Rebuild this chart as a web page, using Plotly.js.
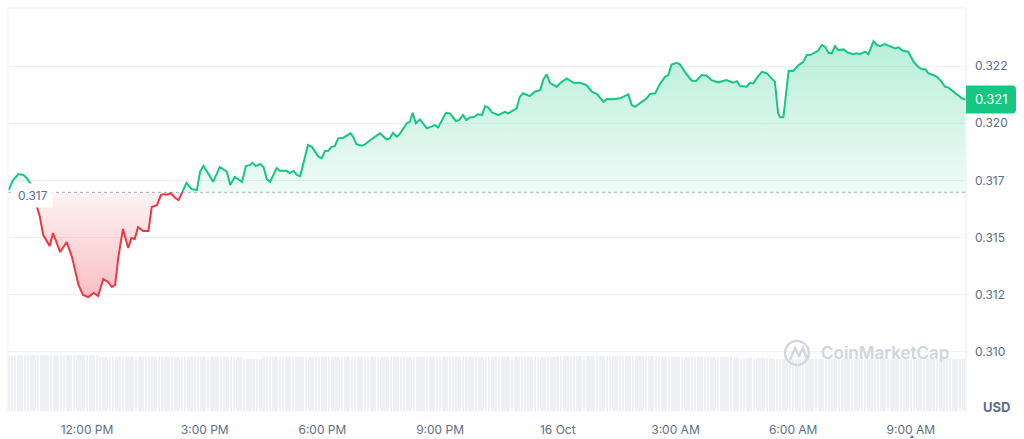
<!DOCTYPE html>
<html>
<head>
<meta charset="utf-8">
<script src="https://cdn.plot.ly/plotly-3.0.1.min.js"></script>
<style>
html,body{margin:0;padding:0;background:#ffffff;}
#chart{width:1024px;height:439px;}
</style>
</head>
<body>
<div id="chart"></div>
<script>
// ---------------- DATA ----------------
const startTime = Date.UTC(2024, 9, 15, 10, 0, 0); // 15 Oct, 10:00 AM
// minutes after start for each price sample
const priceMinutes = [
  0,7,15,23,28,33,43,48,53,63,
  68,79,89,97,107,114,122,130,137,145,
  152,158,163,168,175,183,188,193,198,206,
  214,219,227,233,237,242,248,255,260,266,
  272,280,288,293,298,305,313,323,334,339,
  346,357,363,369,373,378,385,390,395,400,
  410,415,425,430,436,441,446,458,464,469,
  474,479,484,489,494,499,504,512,523,527,
  532,540,545,555,568,578,583,588,594,599,
  609,614,618,623,629,640,652,657,669,675,
  684,689,695,700,706,711,718,724,729,734,
  739,749,759,764,777,782,787,797,805,813,
  818,823,828,838,846,854,864,874,884,892,
  900,910,915,925,935,948,953,958,968,976,
  981,989,996,1004,1009,1014,1022,1027,1035,1045,
  1052,1060,1068,1075,1085,1098,1108,1114,1119,1129,
  1134,1139,1144,1152,1160,1172,1177,1180,1185,1193,
  1200,1208,1215,1221,1226,1233,1238,1244,1249,1254,
  1259,1264,1269,1277,1284,1292,1297,1302,1310,1315,
  1323,1328,1333,1340,1348,1356,1361,1368,1376,1384,
  1391,1397,1402,1407,1414,1420,1427,1432,1437,1442,
  1450,1458,1463
];
const priceValues = [
  0.31708,0.31752,0.31778,0.31774,0.31760,0.31739,0.31635,0.31590,0.31511,0.31463,
  0.31520,0.31437,0.31481,0.31415,0.31293,0.31249,0.31240,0.31258,0.31245,0.31319,
  0.31306,0.31284,0.31293,0.31415,0.31538,0.31455,0.31498,0.31494,0.31546,0.31529,
  0.31529,0.31634,0.31642,0.31686,0.31690,0.31688,0.31694,0.31673,0.31664,0.31700,
  0.31739,0.31712,0.31708,0.31788,0.31813,0.31782,0.31744,0.31809,0.31788,0.31730,
  0.31765,0.31744,0.31813,0.31817,0.31827,0.31813,0.31822,0.31809,0.31756,0.31744,
  0.31804,0.31792,0.31792,0.31782,0.31792,0.31774,0.31769,0.31905,0.31897,0.31875,
  0.31854,0.31847,0.31879,0.31880,0.31897,0.31900,0.31934,0.31937,0.31956,0.31941,
  0.31909,0.31902,0.31908,0.31930,0.31956,0.31930,0.31934,0.31958,0.31941,0.31956,
  0.32000,0.32007,0.32046,0.32000,0.32017,0.31978,0.31992,0.31982,0.32046,0.32043,
  0.32010,0.32014,0.32036,0.32014,0.32026,0.32026,0.32039,0.32036,0.32075,0.32068,
  0.32048,0.32036,0.32050,0.32043,0.32065,0.32116,0.32131,0.32119,0.32138,0.32145,
  0.32192,0.32214,0.32177,0.32160,0.32181,0.32196,0.32177,0.32177,0.32167,0.32138,
  0.32128,0.32094,0.32106,0.32105,0.32109,0.32126,0.32080,0.32072,0.32094,0.32109,
  0.32128,0.32131,0.32171,0.32203,0.32211,0.32257,0.32264,0.32257,0.32221,0.32186,
  0.32186,0.32211,0.32208,0.32189,0.32179,0.32189,0.32177,0.32184,0.32163,0.32160,
  0.32177,0.32174,0.32196,0.32225,0.32218,0.32181,0.32043,0.32026,0.32026,0.32229,
  0.32229,0.32254,0.32267,0.32298,0.32298,0.32308,0.32317,0.32342,0.32334,0.32308,
  0.32306,0.32337,0.32320,0.32323,0.32308,0.32302,0.32306,0.32302,0.32313,0.32302,
  0.32359,0.32342,0.32337,0.32346,0.32337,0.32327,0.32332,0.32317,0.32313,0.32269,
  0.32247,0.32236,0.32236,0.32218,0.32211,0.32203,0.32181,0.32160,0.32157,0.32145,
  0.32128,0.32109,0.32104
];
const baselinePrice = 0.31698;   // period open (dotted reference line)
const baselineLabel = '0.317';
const lastPriceLabel = '0.321';

// 5-minute volume bars (24h rolling volume, millions USD)
const volumeStepMinutes = 5;
const volumeValues = [
  5.61,5.62,5.60,5.60,5.63,5.61,5.60,5.60,5.61,5.60,5.60,5.59,5.60,5.60,5.61,5.60,5.60,5.60,5.59,5.60,5.60,5.61,5.60,5.60,5.60,5.59,5.60,5.58,
  5.38,5.37,5.37,5.36,5.37,5.37,5.38,5.37,5.37,5.38,
  5.43,5.44,5.43,5.43,5.42,5.43,5.43,5.44,5.43,5.43,5.43,5.42,5.43,5.43,5.44,5.43,5.43,5.43,5.42,5.43,5.43,5.43,5.44,5.43,5.43,5.43,5.42,5.43,5.43,5.43,5.42,5.41,5.40,5.38,
  5.20,5.20,5.19,5.20,5.20,5.21,
  5.36,5.37,5.37,5.38,5.37,5.37,5.36,5.37,5.37,5.37,5.38,5.37,5.37,5.37,5.36,5.37,5.37,5.38,5.37,5.37,5.37,5.37,5.36,5.37,5.37,5.38,5.37,5.37,5.37,5.36,5.37,5.37,5.37,5.38,5.37,5.37,5.37,5.36,5.37,5.37,5.37,5.38,5.37,5.37,5.38,
  5.43,5.43,5.44,5.43,5.43,5.42,5.43,5.43,5.43,5.44,5.43,5.43,5.43,5.42,5.43,5.43,5.44,5.43,5.43,5.43,5.43,5.42,5.43,5.43,5.44,5.43,5.43,5.43,5.42,5.43,5.43,5.43,5.44,5.43,5.43,5.43,5.42,5.43,5.43,5.44,5.43,5.43,5.43,5.44,5.45,5.47,
  5.52,5.53,5.53,5.54,5.53,5.53,5.52,5.53,5.53,5.54,5.53,5.53,5.53,5.52,5.53,5.53,5.54,5.53,5.53,5.53,5.52,5.53,5.53,5.54,5.53,5.53,5.52,5.53,5.52,5.50,
  5.44,5.43,5.43,5.42,5.43,5.43,5.44,5.43,5.43,5.43,5.42,5.43,5.43,5.44,5.43,5.43,5.42,5.43,5.43,5.43,5.42,5.41,5.39,
  5.28,5.27,5.27,5.26,5.27,5.27,5.28,5.27,5.27,5.26,5.27,5.26,5.24,
  5.21,5.20,5.20,5.19,5.20,5.20,5.21,5.20,5.20,5.20,5.19,5.20,5.20,5.21,5.20,5.20,5.20,5.19,5.20,5.20,5.21,5.20,5.20,5.19,5.20,5.20,5.20,5.21,5.20,5.20,
  5.19,5.20,5.20,5.21,5.20,5.20,5.20,5.19,5.20,5.20,5.21,5.20,5.20,5.20,5.19,5.20,5.20,5.21,5.20,5.20,5.20,5.19,5.20,5.20,5.21,5.20,5.20,5.20
];

const xTickVals = ['2024-10-15 12:00','2024-10-15 15:00','2024-10-15 18:00','2024-10-15 21:00',
                   '2024-10-16 00:00','2024-10-16 03:00','2024-10-16 06:00','2024-10-16 09:00'];
const xTickText = ['12:00 PM','3:00 PM','6:00 PM','9:00 PM','16 Oct','3:00 AM','6:00 AM','9:00 AM'];
const yTickVals = [0.31, 0.3125, 0.315, 0.3175, 0.32, 0.3225];
const yTickText = ['0.310','0.312','0.315','0.317','0.320','0.322'];

// ---------------- BUILD ----------------
const toStr = ms => new Date(ms).toISOString().slice(0,19).replace('T',' ');
const pT = priceMinutes.map(m => startTime + m * 60000);

// split series at the baseline crossings
const X = [], Y = [];
for (let i = 0; i < pT.length; i++) {
  if (i > 0) {
    const a = priceValues[i-1], b = priceValues[i];
    if ((a - baselinePrice) * (b - baselinePrice) < 0) {
      const f = (baselinePrice - a) / (b - a);
      X.push(pT[i-1] + f * (pT[i] - pT[i-1]));
      Y.push(baselinePrice);
    }
  }
  X.push(pT[i]); Y.push(priceValues[i]);
}
const xs = X.map(toStr);
const baseArr = Y.map(() => baselinePrice);
const upFill = Y.map(v => Math.max(v, baselinePrice));
const downFill = Y.map(v => Math.min(v, baselinePrice));
const upLine = Y.map(v => v >= baselinePrice ? v : null);
const downLine = Y.map(v => v <= baselinePrice ? v : null);
const maxP = Math.max(...priceValues), minP = Math.min(...priceValues);
const lastPrice = priceValues[priceValues.length - 1];

const volX = volumeValues.map((v, i) => toStr(startTime + i * volumeStepMinutes * 60000));

const GREEN = '#16c784', RED = '#ea3943';
const TXT = '#616e85';

const traces = [
  {x: volX, y: volumeValues, type: 'bar', yaxis: 'y2', width: 4 * 60000,
   marker: {color: '#eef0f4', line: {width: 0}}, hoverinfo: 'skip'},
  {x: xs, y: baseArr, mode: 'lines', line: {width: 0, color: 'rgba(0,0,0,0)'}, hoverinfo: 'skip'},
  {x: xs, y: upFill, mode: 'lines', line: {width: 0, color: 'rgba(0,0,0,0)'}, fill: 'tonexty',
   fillcolor: 'rgba(22,199,132,0.15)',
   fillgradient: {type: 'vertical', start: baselinePrice, stop: maxP,
     colorscale: [[0, 'rgba(22,199,132,0.07)'], [1, 'rgba(22,199,132,0.30)']]}, hoverinfo: 'skip'},
  {x: xs, y: baseArr, mode: 'lines', line: {width: 0, color: 'rgba(0,0,0,0)'}, hoverinfo: 'skip'},
  {x: xs, y: downFill, mode: 'lines', line: {width: 0, color: 'rgba(0,0,0,0)'}, fill: 'tonexty',
   fillcolor: 'rgba(234,57,67,0.15)',
   fillgradient: {type: 'vertical', start: baselinePrice, stop: minP,
     colorscale: [[0, 'rgba(234,57,67,0.06)'], [1, 'rgba(234,57,67,0.32)']]}, hoverinfo: 'skip'},
  {x: xs, y: upLine, mode: 'lines', line: {width: 2, color: GREEN}, hoverinfo: 'skip'},
  {x: xs, y: downLine, mode: 'lines', line: {width: 2, color: RED}, hoverinfo: 'skip'}
];

const px2x = p => (p - 8) / 958;   // helper for decoration placement
const py2y = p => (411 - p) / 403;

const layout = {
  width: 1024, height: 439,
  margin: {l: 8, r: 58, t: 8, b: 28},
  paper_bgcolor: '#ffffff', plot_bgcolor: '#ffffff',
  showlegend: false, hovermode: false,
  font: {family: 'Inter, "Noto Sans", sans-serif', size: 12, color: TXT},
  bargap: 0,
  xaxis: {
    type: 'date', range: ['2024-10-15 09:59:10', '2024-10-16 10:24:18'],
    tickmode: 'array', tickvals: xTickVals, ticktext: xTickText,
    showgrid: false, zeroline: false, showline: false, ticks: '',
    ticklabelstandoff: 10, tickfont: {size: 12, color: TXT}, fixedrange: true
  },
  yaxis: {
    side: 'right', range: [0.30742, 0.32504],
    tickmode: 'array', tickvals: yTickVals, ticktext: yTickText,
    showgrid: true, gridcolor: '#eff2f5', gridwidth: 1,
    zeroline: false, showline: false, ticks: '',
    ticklabelstandoff: 8, tickfont: {size: 12, color: TXT}, fixedrange: true
  },
  yaxis2: {overlaying: 'y', visible: false, range: [0, 40.3], fixedrange: true},
  shapes: [
    {type: 'line', xref: 'paper', yref: 'paper', x0: 0, x1: 1, y0: 1, y1: 1, line: {color: '#eaedf1', width: 1}},
    {type: 'line', xref: 'paper', yref: 'paper', x0: 0, x1: 0, y0: 0, y1: 1, line: {color: '#f1f3f6', width: 1}},
    {type: 'line', xref: 'paper', yref: 'paper', x0: 1, x1: 1, y0: 0, y1: 1, line: {color: '#eaedf1', width: 1}},
    {type: 'line', xref: 'paper', yref: 'y', x0: 0, x1: 1, y0: baselinePrice, y1: baselinePrice,
     layer: 'below', line: {color: '#a6b0c3', width: 1, dash: 'dot'}},
    // current price tag
    {type: 'path', xref: 'paper', yref: 'y', xsizemode: 'pixel', ysizemode: 'pixel',
     xanchor: 1, yanchor: lastPrice,
     path: 'M0,-14 L46,-14 Q50,-14 50,-10 L50,10 Q50,14 46,14 L0,14 Z',
     fillcolor: GREEN, line: {width: 0}},
    // watermark logo
    {type: 'circle', xref: 'paper', yref: 'paper', x0: px2x(785), x1: px2x(809), y0: py2y(365), y1: py2y(341),
     line: {color: '#d3d8e0', width: 2.5}},
    {type: 'path', xref: 'paper', yref: 'paper',
     path: 'M' + px2x(790) + ',' + py2y(360) + ' L' + px2x(795) + ',' + py2y(348) + ' L' + px2x(799) + ',' + py2y(356) +
           ' L' + px2x(803) + ',' + py2y(348) + ' L' + px2x(806) + ',' + py2y(357) + ' L' + px2x(808) + ',' + py2y(355),
     line: {color: '#d3d8e0', width: 2.5}},
    // small blue cursor marker
    {type: 'path', xref: 'paper', yref: 'paper',
     path: 'M' + px2x(910) + ',' + py2y(438) + ' L' + px2x(914) + ',' + py2y(438) + ' L' + px2x(912) + ',' + py2y(435) + ' Z',
     fillcolor: '#3861fb', line: {width: 0}}
  ],
  annotations: [
    {xref: 'paper', yref: 'y', x: 0, y: baselinePrice, xanchor: 'left', yanchor: 'middle',
     xshift: 5, yshift: -3, text: baselineLabel, showarrow: false,
     bgcolor: '#ffffff', borderpad: 4, font: {size: 12, color: TXT}},
    {xref: 'paper', yref: 'y', x: 1, y: lastPrice, xanchor: 'center', yanchor: 'middle',
     xshift: 25, text: lastPriceLabel, showarrow: false, font: {size: 13, color: '#ffffff'}},
    {xref: 'paper', yref: 'paper', x: px2x(819), y: py2y(353), xanchor: 'left', yanchor: 'middle',
     text: 'CoinMarketCap', showarrow: false, font: {size: 17, color: '#d0d6de', weight: 600}},
    {xref: 'paper', yref: 'paper', x: px2x(981), y: py2y(407), xanchor: 'left', yanchor: 'middle',
     text: 'USD', showarrow: false, font: {size: 13, color: TXT, weight: 700}}
  ]
};

Plotly.newPlot('chart', traces, layout, {displayModeBar: false, staticPlot: true});
</script>
</body>
</html>
